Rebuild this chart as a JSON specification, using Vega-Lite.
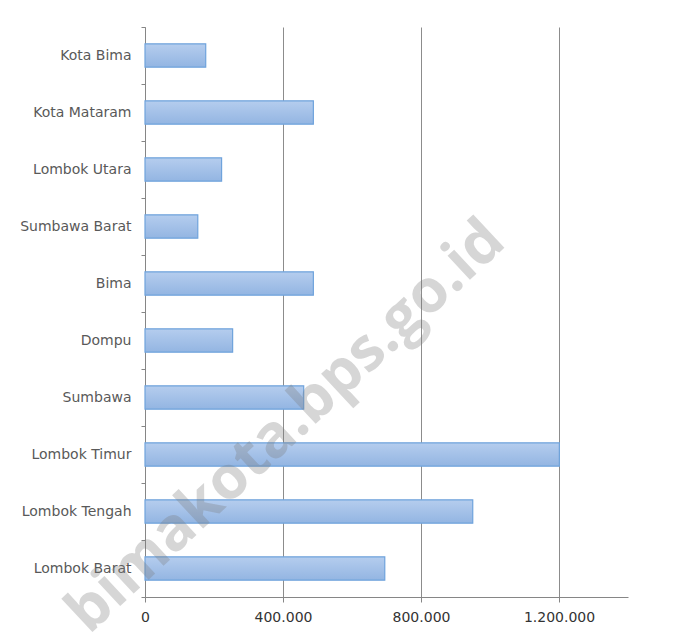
{
  "$schema": "https://vega.github.io/schema/vega-lite/v6.json",
  "autosize": {"type": "none"},
  "width": 483,
  "height": 570,
  "padding": {"left": 145, "top": 27, "right": 61, "bottom": 43},
  "background": "white",
  "config": {"view": {"stroke": null}},
  "layer": [
    {
      "data": {"values": [
        {"wilayah": "Kota Bima", "nilai": 176000},
        {"wilayah": "Kota Mataram", "nilai": 488000},
        {"wilayah": "Lombok Utara", "nilai": 222000},
        {"wilayah": "Sumbawa Barat", "nilai": 153000},
        {"wilayah": "Bima", "nilai": 488000},
        {"wilayah": "Dompu", "nilai": 254000},
        {"wilayah": "Sumbawa", "nilai": 460000},
        {"wilayah": "Lombok Timur", "nilai": 1201000},
        {"wilayah": "Lombok Tengah", "nilai": 950000},
        {"wilayah": "Lombok Barat", "nilai": 695000}
      ]},
      "mark": {
        "type": "bar",
        "height": {"band": 0.41},
        "stroke": "#6fa3dc",
        "strokeWidth": 1.2,
        "color": {"gradient": "linear", "x1": 0, "y1": 0, "x2": 0, "y2": 1,
          "stops": [{"offset": 0, "color": "#b5cdee"}, {"offset": 1, "color": "#93b5e2"}]}
      },
      "encoding": {
        "y": {
          "field": "wilayah", "type": "nominal", "sort": null, "title": null,
          "scale": {"paddingInner": 0, "paddingOuter": 0},
          "axis": {
            "tickBand": "extent", "domainColor": "#868686", "tickColor": "#868686",
            "tickSize": 4, "labelPadding": 10, "labelFont": "DejaVu Sans", "labelFontSize": 14,
            "labelColor": "#595959"
          }
        },
        "x": {
          "field": "nilai", "type": "quantitative", "title": null,
          "scale": {"domain": [0, 1400000], "nice": false},
          "axis": {
            "values": [0, 400000, 800000, 1200000],
            "labelExpr": "replace(format(datum.value, ','), /,/g, '.')",
            "grid": true, "gridColor": "#8c8c8c", "gridWidth": 1,
            "domainColor": "#868686", "tickColor": "#868686", "tickSize": 5,
            "labelPadding": 8, "labelFont": "DejaVu Sans", "labelFontSize": 14,
            "labelColor": "#333333", "labelFlush": false
          }
        }
      }
    },
    {
      "data": {"values": [{"teks": "bimakota.bps.go.id", "x": 330000, "wilayah": "Sumbawa"}]},
      "mark": {"type": "text", "angle": -43, "font": "Open Sans", "fontSize": 60, "fontWeight": "bold",
        "fill": "#7a7a7a", "opacity": 0.3, "dy": 40, "align": "center", "baseline": "middle"},
      "encoding": {
        "x": {"field": "x", "type": "quantitative"},
        "y": {"field": "wilayah", "type": "nominal", "sort": null},
        "text": {"field": "teks"}
      }
    }
  ]
}
